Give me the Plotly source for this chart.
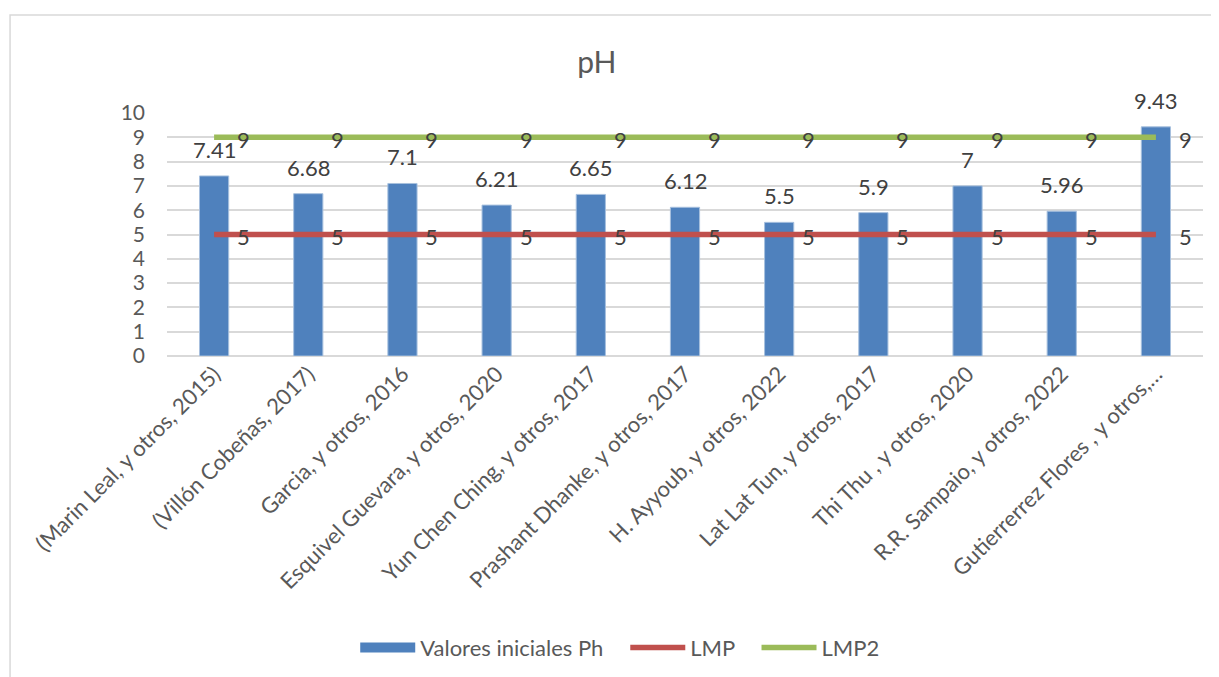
import plotly.graph_objects as go

categories = [
    "(Marin Leal, y otros, 2015)",
    "(Villón Cobeñas, 2017)",
    "Garcia, y otros, 2016",
    "Esquivel Guevara, y otros, 2020",
    "Yun Chen Ching, y otros, 2017",
    "Prashant Dhanke, y otros, 2017",
    "H. Ayyoub, y otros, 2022",
    "Lat Lat Tun, y otros, 2017",
    "Thi Thu , y otros, 2020",
    "R.R. Sampaio, y otros, 2022",
    "Gutierrerrez Flores , y otros,…",
]
ph_values = [7.41, 6.68, 7.1, 6.21, 6.65, 6.12, 5.5, 5.9, 7, 5.96, 9.43]
lmp = [5] * 11
lmp2 = [9] * 11
y_ticks = list(range(0, 11))

FONT = "Lato"
TXT = "#595959"
LBL = "#404040"
BLUE = "#4F81BD"
RED = "#C0504D"
GREEN = "#9BBB59"
GRID = "#D9D9D9"
PAD = "\u00a0" * 3

fig = go.Figure()
fig.add_trace(go.Bar(
    x=categories, y=ph_values, name="Valores iniciales Ph",
    marker=dict(color=BLUE, line=dict(color="#A7C0DE", width=1)),
    width=0.31, showlegend=False, legendgroup="ph",
))
# legend entry for the bars (wide swatch, as in the original chart)
fig.add_trace(go.Scatter(
    x=[None], y=[None], name="Valores iniciales Ph" + PAD, mode="lines",
    line=dict(color=BLUE, width=14), legendgroup="ph",
))
fig.add_trace(go.Scatter(
    x=categories, y=lmp, name="LMP" + PAD, mode="lines",
    line=dict(color=RED, width=5.5),
))
fig.add_trace(go.Scatter(
    x=categories, y=lmp2, name="LMP2", mode="lines",
    line=dict(color=GREEN, width=5.5),
))

annotations = []
for c, v in zip(categories, ph_values):
    annotations.append(dict(x=c, y=v, text=f"{v:g}", showarrow=False,
                            xanchor="center", yanchor="bottom", yshift=11,
                            font=dict(family=FONT, size=22, color=LBL)))
for series in (lmp, lmp2):
    for c, v in zip(categories, series):
        annotations.append(dict(x=c, y=v, text=f"{v:g}", showarrow=False,
                                xanchor="left", yanchor="middle", xshift=21, yshift=-2,
                                font=dict(family=FONT, size=22, color=LBL)))

fig.update_layout(
    width=1219, height=677,
    margin=dict(l=159, r=24, t=105, b=329),
    paper_bgcolor="white", plot_bgcolor="white",
    font=dict(family=FONT, size=21, color=TXT),
    title=dict(text="pH", x=0.483, xanchor="center", y=0.920, yanchor="middle",
               font=dict(family=FONT, size=30, color=TXT)),
    showlegend=True,
    legend=dict(orientation="h", x=0.437, xanchor="center", y=-1.2, yanchor="middle",
                font=dict(family=FONT, size=22, color=TXT), itemwidth=55,
                traceorder="normal"),
    annotations=annotations,
    shapes=[dict(type="rect", xref="paper", yref="paper",
                 x0=-0.1515, x1=1.2, y0=-2.0, y1=1.403,
                 line=dict(color=GRID, width=1.5), fillcolor="rgba(0,0,0,0)", layer="below")],
)
fig.update_yaxes(range=[0, 10], tickvals=y_ticks, showgrid=True, gridcolor=GRID, gridwidth=1.5,
                 zeroline=True, zerolinecolor=GRID, zerolinewidth=1.5, showline=False,
                 ticks="", ticklabelstandoff=21,
                 tickfont=dict(family=FONT, size=21, color=TXT))
fig.update_xaxes(type="category", tickangle=-45, showgrid=False, showline=False, ticks="",
                 tickfont=dict(family=FONT, size=22, color=TXT), range=[-0.5, 10.5])

fig.write_html("out.html")
